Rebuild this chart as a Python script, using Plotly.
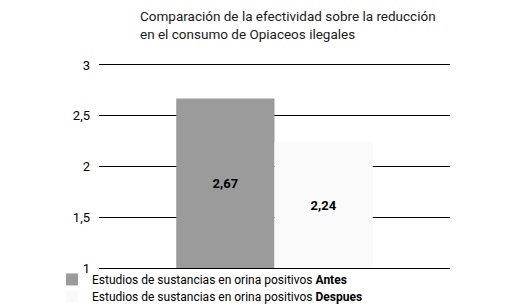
import plotly.graph_objects as go

categories = ["Opiaceos ilegales"]
series_names = [
    "Estudios de sustancias en orina positivos <b>Antes</b>",
    "Estudios de sustancias en orina positivos <b>Despues</b>",
]
antes_values = [2.67]
despues_values = [2.24]
antes_labels = ["2,67"]
despues_labels = ["2,24"]
axis_floor = 1
tick_vals = [1, 1.5, 2, 2.5, 3]
tick_text = ["1", "1,5", "2", "2,5", "3"]

FONT = "Roboto, Liberation Sans, sans-serif"

fig = go.Figure()
fig.add_trace(go.Bar(
    x=categories, y=[v - axis_floor for v in antes_values], base=axis_floor,
    name=series_names[0], legend="legend",
    marker=dict(color="#9b9b9b", line=dict(width=0)),
    text=antes_labels, textposition="inside", insidetextanchor="middle",
    textfont=dict(family=FONT, size=13, color="#000000", weight="bold"),
))
fig.add_trace(go.Bar(
    x=categories, y=[v - axis_floor for v in despues_values], base=axis_floor,
    name=series_names[1], legend="legend2",
    marker=dict(color="#fafafa", line=dict(width=0)),
    text=despues_labels, textposition="inside", insidetextanchor="middle",
    textfont=dict(family=FONT, size=13, color="#000000", weight="bold"),
))

legend_style = dict(orientation="v", xanchor="left", yanchor="top",
                    font=dict(family=FONT, size=12, color="#000000"),
                    itemwidth=30, tracegroupgap=0, bgcolor="rgba(0,0,0,0)")

fig.update_layout(
    width=510, height=307,
    margin=dict(l=99, r=60, t=65, b=39, autoexpand=False),
    paper_bgcolor="white", plot_bgcolor="white",
    barmode="group", bargap=0.44, bargroupgap=0,
    separators=",.",
    font=dict(family=FONT, size=13, color="#000000"),
    title=dict(
        text="Comparación de la efectividad sobre la reducción<br>en el consumo de Opiaceos ilegales",
        x=140/510, xanchor="left", y=1 - 21/307, yanchor="top",
        font=dict(family=FONT, size=13.5, color="#1a1a1a"),
    ),
    xaxis=dict(showticklabels=False, showgrid=False, zeroline=False,
               showline=True, linecolor="#000000", linewidth=1, mirror=True),
    yaxis=dict(range=[1, 3], tickvals=tick_vals, ticktext=tick_text,
               showgrid=True, gridcolor="#000000", gridwidth=1,
               zeroline=False, showline=False, ticks="",
               ticklabelstandoff=8,
               tickfont=dict(family=FONT, size=13, color="#000000")),
    legend=dict(x=-0.134, y=0.015, **legend_style),
    legend2=dict(x=-0.134, y=-0.069, **legend_style),
    showlegend=True,
)

fig.write_html("out.html",
               config={"displayModeBar": False},
               post_script="document.body.style.margin='0';document.body.style.overflow='hidden';")
